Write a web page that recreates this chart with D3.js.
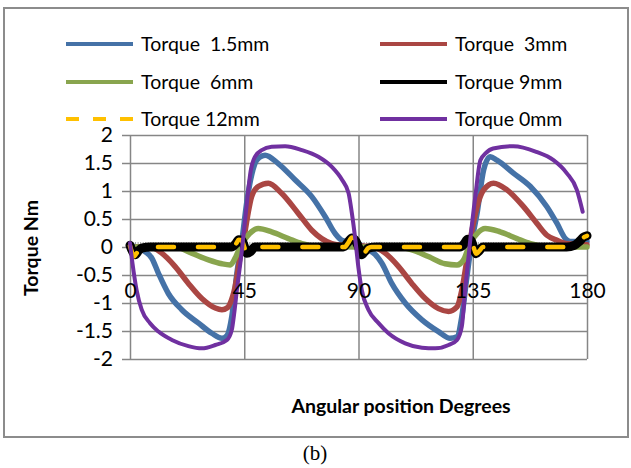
<!DOCTYPE html>
<html>
<head>
<meta charset="utf-8">
<style>
body { margin: 0; background: #fff; }
text { font-family: Lato, "Open Sans", sans-serif; }
.axis path { display: none; }
</style>
<script src="https://d3js.org/d3.v7.min.js"></script>
</head>
<body>
<div id="chart"></div>
<script>

// angle (degrees) and torque (Nm) pairs
var torque15 = [[0,0.02],[3,0],[5.9,-0.08],[8.6,-0.2],[11.2,-0.47],[15.1,-0.83],[20.4,-1.12],[27,-1.36],[32.2,-1.54],[36.2,-1.63],[38.2,-1.58],[40.1,-1.24],[42.1,-0.47],[44.1,0.12],[46,0.8],[47.5,1.2],[49.2,1.49],[51,1.6],[53.2,1.64],[58.4,1.49],[65,1.2],[71.6,0.9],[76.9,0.54],[80.8,0.24],[83.5,0.12],[86.1,0.1],[89,0.08],
  [91.5,0.02],[93.9,-0.05],[96.5,-0.13],[99.2,-0.29],[103.1,-0.65],[108.4,-1.0],[115,-1.3],[121.5,-1.51],[126.1,-1.63],[128.8,-1.6],[130.7,-1.24],[132.7,-0.53],[134.7,0.12],[136.7,0.6],[139.3,1.38],[141.9,1.61],[144.5,1.55],[151,1.32],[157.7,1.08],[164.2,0.72],[168.2,0.42],[171.5,0.15],[173.4,0.1],[180,0.1]];

var torque3 = [[0,0],[8,0],[12.5,-0.11],[17.8,-0.35],[23,-0.65],[28.3,-0.92],[33.6,-1.09],[36.2,-1.12],[38.5,-1.08],[39.5,-1.0],[41.4,-0.71],[43.4,-0.17],[45.4,0.3],[46.5,0.6],[47.9,0.9],[50.5,1.08],[54.5,1.14],[59.7,0.96],[66.3,0.6],[71.6,0.3],[75.5,0.15],[79.5,0.06],[84,0.03],[90,0.02],
  [96,0],[100.5,-0.11],[105.8,-0.35],[111,-0.65],[116.3,-0.92],[121.5,-1.1],[125.5,-1.15],[128.8,-1.07],[130.7,-0.77],[132.7,-0.23],[134.7,0.3],[136.7,0.72],[139.3,1.02],[143.2,1.14],[148.5,1.02],[155,0.72],[160.3,0.42],[164.2,0.21],[168.2,0.12],[172.1,0.06],[180,0.04]];

var torque6 = [[0,0],[18,0],[24.3,-0.11],[30.9,-0.23],[36.2,-0.3],[39.5,-0.32],[41.4,-0.2],[43.4,0],[45,0.12],[47.1,0.24],[50.5,0.33],[55.8,0.27],[62.4,0.15],[67.7,0.06],[72,0.02],[90,0],
  [105,0],[111,-0.05],[117.5,-0.17],[124.1,-0.3],[128.8,-0.32],[131.4,-0.23],[134,0.07],[136.7,0.24],[139.9,0.33],[145.8,0.27],[152.4,0.15],[157.7,0.06],[162,0.02],[180,0]];

var torque9 = [[0,0.03],[1,-0.08],[2,-0.14],[3.5,-0.06],[4.6,-0.02],[8,0],[40,0],[41.5,0.05],[42.8,0.13],[44,0.12],[45,0.02],[46,-0.11],[47.5,-0.08],[49.2,0],[84,0],[86.1,0.1],[87.4,0.16],[89,0.1],[90,0],
  [91.2,-0.14],[92.5,-0.08],[93.9,-0.02],[97,0],[130,0],[131.5,0.05],[133,0.14],[134.3,0.12],[135.3,0],[136.3,-0.12],[137.5,-0.07],[139,0],[172,0],[175,0.03],[177,0.1],[178.5,0.17],[180,0.2]];

var torque12 = [[0,0.02],[0.8,-0.1],[1.5,-0.17],[2.5,-0.12],[3.8,-0.03],[5,0],[40.5,0],[41.8,0.06],[42.8,0.13],[44,0.12],[45,0],[46,-0.12],[47.3,-0.08],[48.8,-0.01],[50,0],[84.5,0],[86,0.08],[87.4,0.17],[88.7,0.13],[90,0],
  [91,-0.13],[92.4,-0.1],[93.8,-0.02],[95,0],[130,0],[131.5,0.06],[133,0.15],[134.3,0.12],[135.3,0],[136.3,-0.12],[137.6,-0.07],[139,0],[173,0],[175.5,0.04],[177.5,0.12],[179,0.18],[180,0.2]];

var torque0 = [[0,0.07],[1,-0.3],[2.6,-0.77],[4.6,-1.12],[7.9,-1.36],[11.2,-1.51],[16.5,-1.66],[23,-1.77],[28.3,-1.81],[33.6,-1.75],[38.2,-1.66],[40.1,-1.48],[41,-1.2],[42.1,-0.77],[44.1,-0.05],[46.3,0.9],[47.5,1.35],[49.2,1.61],[51.9,1.73],[55.8,1.79],[61.1,1.8],[67.7,1.73],[74.2,1.61],[79.5,1.43],[83.5,1.2],[86.1,0.96],[87.4,0.6],[88.7,0.15],
  [90,-0.38],[91.3,-0.77],[93.9,-1.12],[97.9,-1.36],[101.8,-1.54],[108.4,-1.72],[115,-1.8],[120.2,-1.81],[125.5,-1.75],[128.8,-1.66],[130.7,-1.42],[132,-0.77],[134,0.12],[136,0.9],[138,1.55],[140,1.67],[143,1.76],[151,1.8],[160,1.7],[166.8,1.55],[172,1.32],[176,1.02],[178.3,0.63]];

var seriesNames = ["Torque  1.5mm", "Torque  3mm", "Torque  6mm", "Torque 9mm", "Torque 12mm", "Torque 0mm"];
var seriesData = [torque15, torque3, torque6, torque9, torque12, torque0];
var seriesColors = ["#4572a7", "#aa4643", "#89a54e", "#000000", "#ffc000", "#7030a0"];

var xTicks = [0, 45, 90, 135, 180];
var yTicks = [-2, -1.5, -1, -0.5, 0, 0.5, 1, 1.5, 2];

var width = 631, height = 468,
    plot = {left: 130, right: 587, top: 135, bottom: 359};

var svg = d3.select("#chart").append("svg")
    .attr("width", width)
    .attr("height", height);

svg.append("rect").attr("width", width).attr("height", height).attr("fill", "#fff");

// outer frame
svg.append("rect")
    .attr("x", 4).attr("y", 8)
    .attr("width", 624).attr("height", 429)
    .attr("fill", "none").attr("stroke", "#8c8c8c").attr("stroke-width", 2);

var x = d3.scaleLinear().domain([0, 180]).range([plot.left, plot.right]);
var y = d3.scaleLinear().domain([-2, 2]).range([plot.bottom, plot.top]);

// horizontal grid + y ticks
svg.append("g")
    .attr("class", "axis")
    .attr("transform", `translate(${plot.left},0)`)
    .call(d3.axisLeft(y).tickValues(yTicks).tickSize(8).tickPadding(9).tickFormat(d => String(d)))
    .call(g => g.selectAll(".tick line").clone()
        .attr("x1", 0).attr("x2", plot.right - plot.left))
    .call(g => g.selectAll(".tick line").attr("stroke", "#868686").attr("stroke-width", 1.5))
    .call(g => g.selectAll(".tick text").attr("fill", "#000").style("font-size", "21px"));

// vertical grid
svg.append("g")
    .attr("class", "axis")
    .attr("transform", `translate(0,${plot.top})`)
    .call(d3.axisBottom(x).tickValues(xTicks).tickSize(plot.bottom - plot.top).tickFormat(""))
    .call(g => g.selectAll(".tick line").attr("stroke", "#868686").attr("stroke-width", 1.5));

// category ticks along the zero line
svg.append("g")
    .attr("class", "axis")
    .attr("transform", `translate(0,${y(0)})`)
    .call(d3.axisTop(x).tickValues(d3.range(0, 181, 1)).tickSize(5).tickFormat(""))
    .call(g => g.selectAll(".tick line").attr("stroke", "#a0a0a0").attr("stroke-width", 1));

var line = d3.line()
    .x(d => x(d[0]))
    .y(d => y(d[1]))
    .curve(d3.curveMonotoneX);

var widths = [5.5, 5.5, 5.5, 9, 4.5, 4];

seriesData.forEach(function(data, i) {
  var p = svg.append("path")
    .datum(data)
    .attr("fill", "none")
    .attr("stroke", seriesColors[i])
    .attr("stroke-width", widths[i])
    .attr("stroke-linejoin", "round")
    .attr("stroke-linecap", "round")
    .attr("d", line);
  if (i == 4) p.attr("stroke-dasharray", "16,24");
});

// x tick labels (sit below the zero line)
svg.append("g")
    .attr("class", "axis")
    .attr("transform", `translate(0,${y(0)})`)
    .call(d3.axisBottom(x).tickValues(xTicks).tickSize(0).tickPadding(36).tickFormat(d => String(d)))
    .call(g => g.selectAll(".tick text").attr("fill", "#000").style("font-size", "21px"));

// axis titles
svg.append("text")
    .attr("transform", "translate(38,248) rotate(-90)")
    .attr("text-anchor", "middle")
    .style("font-weight", "bold").style("font-size", "19.5px")
    .text("Torque Nm");

svg.append("text")
    .attr("x", 401).attr("y", 413)
    .attr("text-anchor", "middle")
    .style("font-weight", "bold").style("font-size", "19.5px")
    .text("Angular position Degrees");

svg.append("text")
    .attr("x", 315).attr("y", 460)
    .attr("text-anchor", "middle")
    .style("font-family", "'Liberation Serif', serif").style("font-size", "21px")
    .text("(b)");

// legend
var legendX = [66, 380], legendY = [44, 82, 119];
var legend = svg.selectAll(".legend")
    .data(seriesNames)
    .enter().append("g")
    .attr("class", "legend")
    .attr("transform", (d, i) => `translate(${legendX[i % 2]},${legendY[Math.floor(i / 2)]})`);

legend.append("line")
    .attr("x1", 0).attr("x2", 67)
    .attr("stroke", (d, i) => seriesColors[i])
    .attr("stroke-width", 4)
    .attr("stroke-dasharray", (d, i) => i == 4 ? "13,14" : null);

legend.append("text")
    .attr("x", 75).attr("dy", "0.35em")
    .style("font-size", "19.5px")
    .style("white-space", "pre")
    .text(d => d);

</script>
</body>
</html>
